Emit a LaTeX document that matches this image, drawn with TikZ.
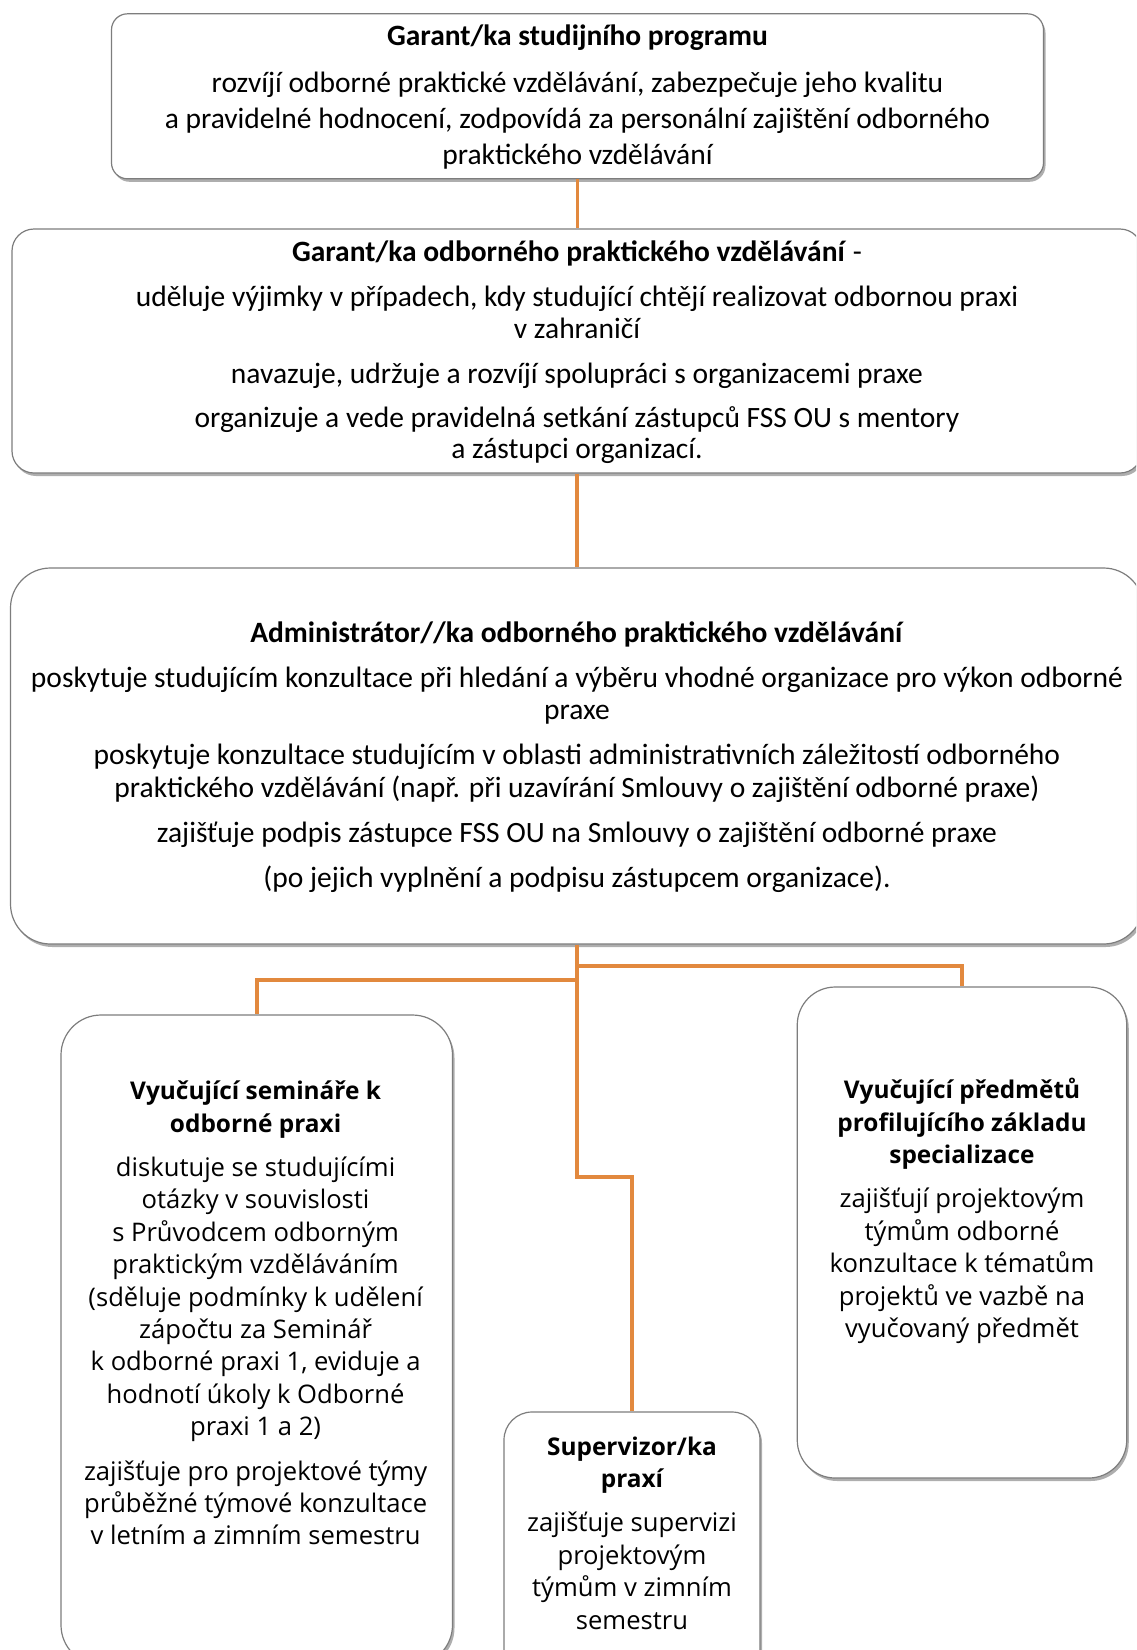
\documentclass[tikz,border=0pt]{standalone}
\usepackage{fontspec}
\setmainfont{Carlito}
\newfontfamily\bottomfont{Open Sans}
\usetikzlibrary{shadows}
\definecolor{linkorange}{RGB}{226,137,62}
\definecolor{boxgray}{RGB}{125,125,125}
\newcommand{\boxhead}[1]{{\fontsize{12.2}{16.2}\selectfont\bfseries #1}}

\begin{document}
\begin{tikzpicture}[x=0.5pt,y=-0.5pt]
\tikzstyle{every node}=[inner sep=0pt];
\tikzstyle{box}=[draw=boxgray,line width=0.6pt,fill=white,drop shadow={shadow xshift=1pt,shadow yshift=-1.5pt,opacity=0.45,fill=black!70}];
\tikzstyle{toptext}=[align=center,font=\fontsize{14.75}{15.7}\selectfont];
\tikzstyle{lowtext}=[align=center,font=\bottomfont\fontsize{12.8}{16.2}\selectfont];
\tikzstyle{link}=[draw=linkorange,line width=1.8pt];
\useasboundingbox (0,0) rectangle (1136,1650);
\clip (0,0) rectangle (1136,1650);
\node[box,rounded corners=8pt,minimum width=466pt,minimum height=82.5pt] (gsp) at (577.5,96.3) {};
\node[box,rounded corners=11pt,minimum width=565pt,minimum height=122pt] (gopv) at (577,351) {};
\node[box,rounded corners=20pt,minimum width=566.5pt,minimum height=188pt] (admin) at (577,756) {};
\node[box,rounded corners=20pt,minimum width=195.75pt,minimum height=325pt] (sem) at (256.75,1340) {};
\node[box,rounded corners=14pt,minimum width=128pt,minimum height=139pt] (sup) at (632,1551) {};
\node[box,rounded corners=19pt,minimum width=164.75pt,minimum height=245.5pt] (pred) at (962,1232.5) {};
\node[toptext,font=\fontsize{14.75}{16.5}\selectfont] (gspT) at (577.5,97.5) {\textbf{Garant/ka studijního programu}\\[7pt]
rozvíjí odborné praktické vzdělávání, zabezpečuje jeho kvalitu\\[1.5pt]
a pravidelné hodnocení, zodpovídá za personální zajištění odborného\\[1.5pt]
praktického vzdělávání};
\node[toptext] (gopvT) at (577,352.5) {\textbf{Garant/ka odborného praktického vzdělávání} -\\[6.8pt]
uděluje výjimky v případech, kdy studující chtějí realizovat odbornou praxi\\
v zahraničí\\[6.8pt]
navazuje, udržuje a rozvíjí spolupráci s organizacemi praxe\\[6.4pt]
organizuje a vede pravidelná setkání zástupců FSS OU s mentory\\
a zástupci organizací.};
\node[toptext,font=\fontsize{14.75}{16.3}\selectfont] (adminT) at (577,757) {\textbf{Administrátor//ka odborného praktického vzdělávání}\\[6.2pt]
poskytuje studujícím konzultace při hledání a výběru vhodné organizace pro výkon odborné\\
praxe\\[6.2pt]
poskytuje konzultace studujícím v oblasti administrativních záležitostí odborného\\
praktického vzdělávání (např. při uzavírání Smlouvy o zajištění odborné praxe)\\[6.2pt]
zajišťuje podpis zástupce FSS OU na Smlouvy o zajištění odborné praxe\\[6.2pt]
(po jejich vyplnění a podpisu zástupcem organizace).};
\node[lowtext] (semT) at (255.6,1313) {\boxhead{Vyučující semináře k}\\
\boxhead{odborné praxi}\\[6pt]
diskutuje se studujícími\\
otázky v souvislosti\\
s Průvodcem odborným\\
praktickým vzděláváním\\
(sděluje podmínky k udělení\\
zápočtu za Seminář\\
k odborné praxi 1, eviduje a\\
hodnotí úkoly k Odborné\\
praxi 1 a 2)\\[6pt]
zajišťuje pro projektové týmy\\
průběžné týmové konzultace\\
v letním a zimním semestru};
\node[lowtext] (supT) at (632,1533) {\boxhead{Supervizor/ka}\\
\boxhead{praxí}\\[6pt]
zajišťuje supervizi\\
projektovým\\
týmům v zimním\\
semestru};
\node[lowtext] (predT) at (962,1211) {\boxhead{Vyučující předmětů}\\
\boxhead{profilujícího základu}\\
\boxhead{specializace}\\[6pt]
zajišťují projektovým\\
týmům odborné\\
konzultace k tématům\\
projektů ve vazbě na\\
vyučovaný předmět};
\coordinate (rightY) at (0,966);
\coordinate (leftY) at (0,980);
\coordinate (stepY) at (0,1177);
\draw[link] (gsp.south) -- (gsp.south |- gopv.north);
\draw[link] (gopv.south) -- (gopv.south |- admin.north);
\draw[link] (admin.south) -- (admin.south |- stepY) -| (sup.north);
\draw[link] (admin.south |- rightY) -| (pred.north);
\draw[link] (admin.south |- leftY) -| (sem.north);
\end{tikzpicture}
\end{document}
